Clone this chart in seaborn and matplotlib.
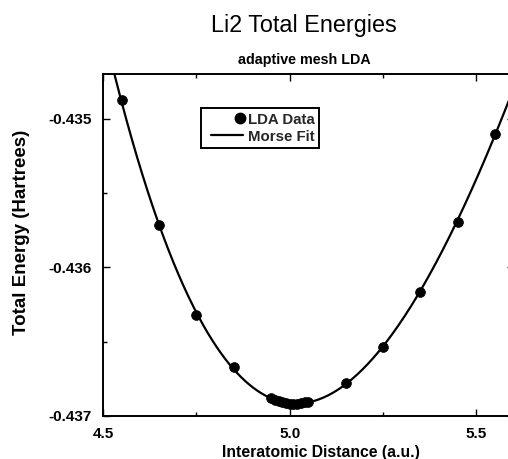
import numpy as np
import pandas as pd
import matplotlib
matplotlib.use("Agg")
import matplotlib.pyplot as plt
import seaborn as sns
from matplotlib.ticker import MultipleLocator, FixedLocator
from matplotlib.lines import Line2D
from matplotlib.legend_handler import HandlerLine2D

# LDA total energies of Li2 versus bond length
r_data = [4.55, 4.65, 4.75, 4.85, 4.95, 4.96, 4.97, 4.98, 4.99, 5.00,
          5.01, 5.02, 5.03, 5.04, 5.05, 5.15, 5.25, 5.35, 5.45, 5.55]
e_data = [-0.434878, -0.435716, -0.436324, -0.436669, -0.436878,
          -0.436890, -0.436900, -0.436908, -0.436913, -0.436916,
          -0.436917, -0.436916, -0.436913, -0.436909, -0.436903,
          -0.436777, -0.436534, -0.436169, -0.435696, -0.435101]

x_ticks = [4.5, 5.0, 5.5]
x_tick_labels = ["4.5", "5.0", "5.5"]
y_ticks = [-0.437, -0.436, -0.435]
y_tick_labels = ["-0.437", "-0.436", "-0.435"]

# Morse fit: E(r) = E0 + De * (1 - exp(-a (r - re)))^2
r = np.asarray(r_data)
e = np.asarray(e_data)
best = None
for a in np.linspace(0.2, 1.2, 101):
    for re in np.linspace(4.95, 5.08, 131):
        u = (1.0 - np.exp(-a * (r - re))) ** 2
        A = np.column_stack([np.ones_like(u), u])
        coef, *_ = np.linalg.lstsq(A, e, rcond=None)
        res = np.sum((A @ coef - e) ** 2)
        if best is None or res < best[0]:
            best = (res, a, re, coef[0], coef[1])
_, a_fit, re_fit, e0_fit, de_fit = best
r_fit = np.linspace(4.5, 5.6, 400)
e_fit = e0_fit + de_fit * (1.0 - np.exp(-a_fit * (r_fit - re_fit))) ** 2

data_df = pd.DataFrame({"r": r_data, "E": e_data})
fit_df = pd.DataFrame({"r": r_fit, "E": e_fit})


class RightMarkerHandler(HandlerLine2D):
    """Single legend marker placed at the right end of the handle box."""

    def create_artists(self, legend, orig_handle, xdescent, ydescent,
                       width, height, fontsize, trans):
        ms = orig_handle.get_markersize()
        x = width - xdescent - ms * 0.4
        y = (height - ydescent) / 2.0
        art = Line2D([x], [y], linestyle="none", marker="o",
                     color=orig_handle.get_color(), markersize=ms)
        art.set_transform(trans)
        return [art]


class InsetLineHandler(HandlerLine2D):
    """Legend line that starts a little inside the handle box."""

    def create_artists(self, legend, orig_handle, xdescent, ydescent,
                       width, height, fontsize, trans):
        y = (height - ydescent) / 2.0
        x0 = -xdescent + 3.8
        x1 = width - xdescent - 1.0
        art = Line2D([x0, x1], [y, y], color=orig_handle.get_color(),
                     linewidth=orig_handle.get_linewidth())
        art.set_transform(trans)
        return [art]


sns.set_theme(style="ticks")
plt.rcParams["font.family"] = ["Liberation Sans", "DejaVu Sans"]

fig = plt.figure(figsize=(5.08, 4.59), dpi=100)
ax = fig.add_axes([0.2028, 0.0937, 0.8085, 0.7451])

sns.lineplot(data=fit_df, x="r", y="E", color="black", linewidth=1.6,
             ax=ax, sort=False, legend=False)
sns.scatterplot(data=data_df, x="r", y="E", color="black", s=50,
                edgecolor="black", linewidth=0.5, ax=ax, legend=False,
                zorder=3)

ax.set_xlim(4.5, 5.6)
ax.set_ylim(-0.437, -0.4347)

ax.xaxis.set_major_locator(FixedLocator(x_ticks))
ax.set_xticklabels(x_tick_labels)
ax.yaxis.set_major_locator(FixedLocator(y_ticks))
ax.set_yticklabels(y_tick_labels)
ax.xaxis.set_minor_locator(MultipleLocator(0.25))
ax.yaxis.set_minor_locator(MultipleLocator(0.0005))

ax.tick_params(which="both", direction="in", top=True, right=True,
               color="black", width=1.0)
ax.tick_params(which="major", length=5)
ax.tick_params(which="minor", length=3)
ax.tick_params(axis="x", which="major", pad=8, labelsize=11)
ax.tick_params(axis="y", which="major", pad=8, labelsize=11)
for lab in ax.get_xticklabels() + ax.get_yticklabels():
    lab.set_fontweight("bold")
    lab.set_color("black")

for side in ["left", "bottom", "top", "right"]:
    ax.spines[side].set_color("black")
    ax.spines[side].set_linewidth(1.4)

ax.set_xlabel("Interatomic Distance (a.u.)", fontsize=11.3, fontweight="bold",
              color="black")
ax.set_ylabel("Total Energy (Hartrees)", fontsize=13.5, fontweight="bold",
              color="black")
ax.xaxis.set_label_coords(0.53, -0.085)
ax.yaxis.set_label_coords(-0.177, 0.538)

fig.text(0.598, 0.945, "Li2 Total Energies", ha="center", va="center",
         fontsize=16.8, color="black")
fig.text(0.6, 0.869, "adaptive mesh LDA", ha="center", va="center",
         fontsize=10.3, fontweight="bold", color="black")

data_handle = Line2D([], [], linestyle="none", marker="o", color="black",
                     markersize=7.5)
fit_handle = Line2D([], [], color="black", linewidth=1.6)
leg = ax.legend([data_handle, fit_handle], ["LDA Data", "Morse Fit"],
                loc="upper left", bbox_to_anchor=(0.238, 0.90),
                borderaxespad=0, frameon=True, fancybox=False,
                handlelength=2.6, handletextpad=0.25, borderpad=0.3,
                labelspacing=0.2, prop={"weight": "bold", "size": 10.8},
                handler_map={data_handle: RightMarkerHandler(),
                             fit_handle: InsetLineHandler()})
leg.get_frame().set_edgecolor("black")
leg.get_frame().set_linewidth(1.4)
leg.get_frame().set_facecolor("white")
leg.get_frame().set_alpha(1.0)

fig.savefig("out.png", dpi=100, facecolor="white")
